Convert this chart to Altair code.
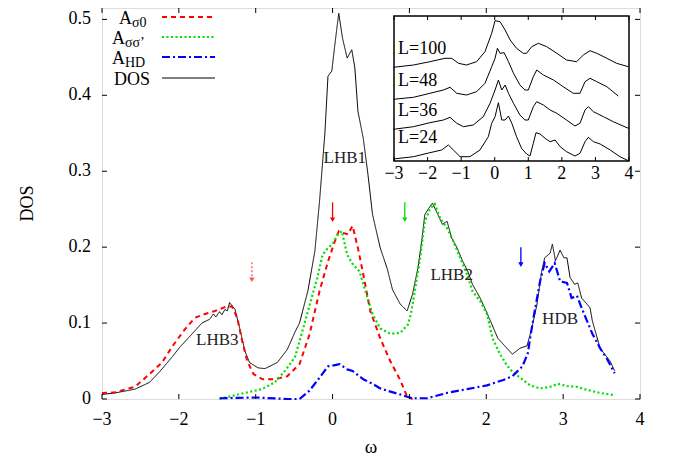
import altair as alt
import pandas as pd

# ---------------- main panel data ----------------
dos_x = [-3.0, -2.83, -2.57, -2.38, -2.25, -2.09, -1.99, -1.88, -1.79, -1.70, -1.60, -1.55, -1.52, -1.47,
         -1.44, -1.40, -1.37, -1.34, -1.27, -1.21, -1.14, -1.08, -0.97, -0.88, -0.72, -0.59, -0.49, -0.43,
         -0.32, -0.23, -0.17, -0.10, -0.06, -0.01, 0.03, 0.08, 0.13, 0.19, 0.25, 0.29, 0.33, 0.40, 0.46,
         0.52, 0.62, 0.71, 0.78, 0.88, 0.97, 1.04, 1.11, 1.16, 1.20, 1.27, 1.30, 1.37, 1.43, 1.49, 1.55,
         1.62, 1.69, 1.76, 1.82, 1.92, 1.98, 2.07, 2.15, 2.24, 2.34, 2.44, 2.53, 2.59, 2.66, 2.72, 2.76,
         2.83, 2.86, 2.90, 2.96, 3.01, 3.05, 3.09, 3.15, 3.19, 3.24, 3.31, 3.35, 3.38, 3.48, 3.54, 3.61, 3.67]
dos_y = [0.006, 0.008, 0.013, 0.022, 0.036, 0.055, 0.068, 0.080, 0.090, 0.100, 0.105, 0.112, 0.108, 0.115,
         0.111, 0.118, 0.116, 0.127, 0.118, 0.094, 0.063, 0.048, 0.041, 0.040, 0.048, 0.065, 0.088, 0.100,
         0.143, 0.195, 0.260, 0.350, 0.425, 0.432, 0.467, 0.508, 0.475, 0.449, 0.460, 0.436, 0.379, 0.343,
         0.296, 0.243, 0.199, 0.172, 0.144, 0.125, 0.116, 0.138, 0.172, 0.208, 0.243, 0.254, 0.258, 0.243,
         0.230, 0.234, 0.212, 0.199, 0.182, 0.168, 0.151, 0.133, 0.120, 0.099, 0.080, 0.070, 0.059, 0.067,
         0.070, 0.092, 0.125, 0.168, 0.186, 0.192, 0.204, 0.182, 0.196, 0.186, 0.186, 0.160, 0.151, 0.153,
         0.133, 0.125, 0.120, 0.103, 0.067, 0.059, 0.050, 0.037]

s0_x = [-3.0, -2.83, -2.57, -2.38, -2.22, -2.08, -1.92, -1.79, -1.66, -1.53, -1.40, -1.31, -1.24, -1.18,
        -1.11, -1.03, -0.91, -0.75, -0.59, -0.43, -0.30, -0.17, -0.06, 0.03, 0.08, 0.13, 0.20, 0.26, 0.33,
        0.40, 0.49, 0.62, 0.75, 0.88, 0.97, 1.04]
s0_y = [0.008, 0.009, 0.016, 0.033, 0.048, 0.070, 0.092, 0.107, 0.112, 0.116, 0.121, 0.122, 0.107, 0.078,
        0.050, 0.033, 0.026, 0.026, 0.030, 0.046, 0.085, 0.142, 0.181, 0.208, 0.221, 0.219, 0.217, 0.228,
        0.199, 0.164, 0.116, 0.080, 0.050, 0.025, 0.003, 0.0]

ss_x = [-1.47, -1.31, -1.14, -0.92, -0.75, -0.62, -0.49, -0.43, -0.32, -0.20, -0.13, -0.06, 0.0, 0.07, 0.12,
        0.19, 0.26, 0.35, 0.44, 0.52, 0.62, 0.75, 0.88, 0.98, 1.02, 1.07, 1.14, 1.20, 1.27, 1.33, 1.40, 1.49,
        1.57, 1.66, 1.75, 1.82, 1.92, 2.01, 2.08, 2.18, 2.27, 2.34, 2.44, 2.57, 2.70, 2.83, 2.93, 3.05, 3.18,
        3.31, 3.48, 3.67]
ss_y = [0.0, 0.004, 0.008, 0.013, 0.022, 0.037, 0.055, 0.076, 0.116, 0.159, 0.190, 0.199, 0.204, 0.217, 0.221,
        0.190, 0.178, 0.168, 0.138, 0.112, 0.093, 0.086, 0.087, 0.098, 0.112, 0.142, 0.186, 0.234, 0.251,
        0.257, 0.238, 0.225, 0.208, 0.186, 0.164, 0.142, 0.129, 0.112, 0.080, 0.059, 0.044, 0.036, 0.028,
        0.018, 0.014, 0.016, 0.020, 0.017, 0.016, 0.012, 0.008, 0.005]

hd_x = [-1.47, -1.0, -0.6, -0.43, -0.30, -0.17, -0.06, 0.0, 0.09, 0.19, 0.26, 0.40, 0.52, 0.62, 0.71, 0.88,
        0.97, 1.04, 1.23, 1.49, 1.75, 2.01, 2.22, 2.34, 2.47, 2.54, 2.57, 2.63, 2.70, 2.76, 2.82, 2.89, 2.96,
        3.05, 3.11, 3.18, 3.24, 3.31, 3.38, 3.48, 3.57, 3.67]
hd_y = [0.001, 0.002, 0.0, 0.0, 0.011, 0.028, 0.043, 0.044, 0.046, 0.039, 0.037, 0.026, 0.020, 0.014, 0.011,
        0.006, 0.003, 0.001, 0.001, 0.008, 0.013, 0.018, 0.025, 0.030, 0.043, 0.060, 0.080, 0.116, 0.155,
        0.179, 0.168, 0.179, 0.155, 0.153, 0.133, 0.136, 0.120, 0.103, 0.086, 0.067, 0.053, 0.034]

band_labels = ["LHB1", "LHB2", "LHB3", "HDB"]
band_x = [0.16, 1.55, -1.5, 2.96]
band_y = [0.318, 0.163, 0.078, 0.105]

arrow_x = [-1.05, 0.0, 0.94, 2.45]
arrow_y0 = [0.180, 0.259, 0.259, 0.200]
arrow_y1 = [0.157, 0.236, 0.236, 0.177]
arrow_c = ["#ff5050", "#ff0000", "#00dd00", "#0000ff"]
arrow_dash = [[2, 2], [1, 0], [1, 0], [1, 0]]

x_ticks = [-3, -2, -1, 0, 1, 2, 3, 4]
x_tick_labels = ["\u22123", "\u22122", "\u22121", "0", "1", "2", "3", "4"]
y_ticks = [0, 0.1, 0.2, 0.3, 0.4, 0.5]
y_tick_labels = ["0", "0.1", "0.2", "0.3", "0.4", "0.5"]
x_title = "\u03c9"
y_title = "DOS"

# ---------------- inset data ----------------
in_ticks = [-3, -2, -1, 0, 1, 2, 3, 4]
in_tick_labels = ["\u22123", "\u22122", "\u22121", "0", "1", "2", "3", "4"]

l24_x = [-3.02, -2.42, -1.93, -1.58, -1.38, -1.23, -1.03, -0.74, -0.44, -0.19, -0.09, 0.01, 0.11, 0.21, 0.31,
         0.41, 0.51, 0.65, 0.80, 0.95, 1.05, 1.15, 1.23, 1.35, 1.50, 1.65, 1.80, 1.95, 2.14, 2.39, 2.54, 2.69,
         2.79, 2.94, 3.14, 3.44, 3.73, 3.98]
l24_y = [2, 4.3, 8.3, 11, 16, 11, 4.3, 4.3, 11, 24.3, 37.7, 44.3, 58.3, 41, 41, 45, 37.7, 24.3, 12.7, 7, 5,
         17.7, 28.3, 27, 22.7, 19.3, 21, 14.3, 9.3, 5, 7.7, 19.3, 23.7, 19.3, 17, 11, 4.3, 0.3]

l36_x = [-3.02, -2.42, -1.93, -1.53, -1.33, -1.13, -0.93, -0.64, -0.34, -0.14, 0.01, 0.11, 0.21, 0.31, 0.41,
         0.56, 0.75, 0.90, 1.00, 1.15, 1.25, 1.45, 1.65, 1.85, 2.14, 2.39, 2.54, 2.69, 2.79, 2.94, 3.24, 3.53, 3.98]
l36_y = [31.7, 34.3, 38.3, 41, 43.7, 37.7, 34.3, 36, 44.3, 57.7, 71, 81, 71, 76, 67.7, 57.7, 46, 41, 41, 54.3,
         59.3, 56, 51, 47.7, 41, 35, 37.7, 51, 54.3, 49.3, 44.3, 39.3, 32.7]

l48_x = [-3.02, -2.42, -1.93, -1.53, -1.33, -1.13, -0.84, -0.54, -0.29, -0.09, 0.01, 0.08, 0.16, 0.28, 0.41,
         0.56, 0.75, 0.90, 1.00, 1.15, 1.25, 1.45, 1.75, 2.04, 2.34, 2.54, 2.69, 2.84, 3.04, 3.34, 3.68]
l48_y = [61.7, 63.7, 67.7, 71, 73.7, 67.7, 66, 69.3, 77.7, 94.3, 102.7, 112.7, 107.7, 108.3, 99.3, 87.7, 76, 71,
         71, 84.3, 91, 86, 81, 74.3, 67.7, 67.7, 79.3, 82.7, 79.3, 74.3, 65]

l100_x = [-3.02, -2.42, -1.93, -1.48, -1.28, -1.08, -0.84, -0.54, -0.29, -0.09, 0.01, 0.16, 0.31, 0.46, 0.65,
          0.85, 0.95, 1.10, 1.30, 1.55, 1.85, 2.14, 2.44, 2.64, 2.84, 3.04, 3.34, 3.63, 3.98]
l100_y = [93.7, 96, 99.3, 102.7, 102.7, 97.7, 96, 99.3, 109.3, 127.7, 140.3, 139.3, 131, 121, 112.7, 107.7, 107.7,
          114.3, 117.7, 114.3, 107.7, 101, 99.3, 106, 110.3, 107.7, 102.7, 97.7, 94.3]

in_labels = ["L=100", "L=48", "L=36", "L=24"]
in_label_y = [112, 80, 50, 23]

FONT = "Liberation Serif"
W, H = 538, 391
RED, GREEN, BLUE = "#ff0000", "#00dd00", "#0000ff"

xs = alt.Scale(domain=[-3, 4], nice=False, zero=False)
ys = alt.Scale(domain=[0, 0.515], nice=False)


def X(f):
    return alt.X(f, type="quantitative", scale=xs, axis=None)


def Y(f):
    return alt.Y(f, type="quantitative", scale=ys, axis=None)


def series(xv, yv, color, dash, width):
    df = pd.DataFrame({"x": xv, "y": yv})
    return alt.Chart(df).mark_line(color=color, strokeDash=dash, strokeWidth=width).encode(
        x=X("x"), y=Y("y"))


dos_line = series(dos_x, dos_y, "black", [1, 0], 1.0)
s0_line = series(s0_x, s0_y, RED, [5, 4], 2.0)
ss_line = series(ss_x, ss_y, GREEN, [2, 2.5], 2.2)
hd_line = series(hd_x, hd_y, BLUE, [8, 3, 2, 3], 2.2)

band_df = pd.DataFrame({"x": band_x, "y": band_y, "t": band_labels})
band_text = alt.Chart(band_df).mark_text(font=FONT, fontSize=17, color="#222222").encode(
    x=X("x"), y=Y("y"), text="t:N")

arrow_layers = []
for i in range(len(arrow_x)):
    adf = pd.DataFrame({"x": [arrow_x[i]], "y0": [arrow_y0[i]], "y1": [arrow_y1[i]]})
    arrow_layers.append(alt.Chart(adf).mark_rule(color=arrow_c[i], strokeWidth=1.3,
                                                  strokeDash=arrow_dash[i]).encode(
        x=X("x"), y=Y("y0"), y2="y1"))
    arrow_layers.append(alt.Chart(adf).mark_point(
        shape="triangle-down", filled=True, size=28, color=arrow_c[i], opacity=1,
        strokeWidth=0).encode(x=X("x"), y=Y("y1")))

# axes drawn by hand: inward ticks on all four sides, serif labels
xt_df = pd.DataFrame({"t": x_ticks, "lab": x_tick_labels})
yt_df = pd.DataFrame({"t": y_ticks, "lab": y_tick_labels})
ticks_bottom = alt.Chart(xt_df).mark_rule(color="black", strokeWidth=1).encode(
    x=X("t"), y=alt.value(H), y2=alt.value(H - 5))
ticks_top = alt.Chart(xt_df).mark_rule(color="black", strokeWidth=1).encode(
    x=X("t"), y=alt.value(0), y2=alt.value(5))
ticks_left = alt.Chart(yt_df).mark_rule(color="black", strokeWidth=1).encode(
    y=Y("t"), x=alt.value(0), x2=alt.value(5))
ticks_right = alt.Chart(yt_df).mark_rule(color="black", strokeWidth=1).encode(
    y=Y("t"), x=alt.value(W), x2=alt.value(W - 5))
x_lab = alt.Chart(xt_df).mark_text(font=FONT, fontSize=18, color="black", baseline="middle").encode(
    x=X("t"), y=alt.value(H + 21), text="lab:N")
y_lab = alt.Chart(yt_df).mark_text(font=FONT, fontSize=18, color="black", baseline="middle",
                                   align="right").encode(
    y=Y("t"), x=alt.value(-11), text="lab:N")
one = pd.DataFrame({"k": [0]})
x_tit = alt.Chart(one).mark_text(text=x_title, font=FONT, fontSize=19, color="black",
                                 baseline="middle").encode(x=alt.value(W / 2), y=alt.value(H + 48))
y_tit = alt.Chart(one).mark_text(text=y_title, font=FONT, fontSize=18, color="black",
                                 baseline="middle", angle=270).encode(x=alt.value(-74), y=alt.value(H / 2))

# ---------------- legend ----------------
leg = []
leg_rows = [("\u03c30", RED, [5, 4], 2.0, 9, 30), ("\u03c3\u03c3\u2019", GREEN, [2, 2.5], 2.2, 29, 23),
            ("HD", BLUE, [8, 3, 2, 3], 2.2, 49, 23)]
for sub, col, dash, sw, ly, ax in leg_rows:
    leg.append(alt.Chart(one).mark_rule(color=col, strokeDash=dash, strokeWidth=sw).encode(
        x=alt.value(60), x2=alt.value(113), y=alt.value(ly)))
    leg.append(alt.Chart(one).mark_text(text="A", font=FONT, fontSize=18, align="right",
                                        baseline="alphabetic", color="black").encode(
        x=alt.value(ax), y=alt.value(ly + 7)))
    leg.append(alt.Chart(one).mark_text(text=sub, font=FONT, fontSize=14, align="left",
                                        baseline="alphabetic", color="black").encode(
        x=alt.value(ax), y=alt.value(ly + 10)))
leg.append(alt.Chart(one).mark_rule(color="black", strokeWidth=1).encode(
    x=alt.value(60), x2=alt.value(113), y=alt.value(70)))
leg.append(alt.Chart(one).mark_text(text="DOS", font=FONT, fontSize=18, align="right",
                                    baseline="alphabetic", color="black").encode(
    x=alt.value(48), y=alt.value(77)))

main = alt.layer(dos_line, s0_line, ss_line, hd_line, band_text, *arrow_layers,
                 ticks_bottom, ticks_top, ticks_left, ticks_right, x_lab, y_lab, x_tit, y_tit, *leg)

# ---------------- inset ----------------
ixs = alt.Scale(domain=[-3, 4], range=[292, 527], nice=False, zero=False)
iys = alt.Scale(domain=[0, 145], range=[153, 8], nice=False)


def IX(f):
    return alt.X(f, type="quantitative", scale=ixs, axis=None)


def IY(f):
    return alt.Y(f, type="quantitative", scale=iys, axis=None)


frame_df = pd.DataFrame({"x0": [-3], "x1": [4], "y0": [0], "y1": [145]})
in_frame = alt.Chart(frame_df).mark_rect(fill="white", stroke="black", strokeWidth=1.5).encode(
    x=IX("x0"), x2="x1", y=IY("y0"), y2="y1")

in_lines = []
for xv, yv in [(l24_x, l24_y), (l36_x, l36_y), (l48_x, l48_y), (l100_x, l100_y)]:
    in_lines.append(alt.Chart(pd.DataFrame({"ix": xv, "iy": yv})).mark_line(
        color="black", strokeWidth=1).encode(x=IX("ix"), y=IY("iy")))

it_df = pd.DataFrame({"ix": in_ticks, "lab": in_tick_labels})
in_ticks_top = alt.Chart(it_df).mark_rule(color="black", strokeWidth=1).encode(
    x=IX("ix"), y=alt.value(8), y2=alt.value(12))
in_ticks_bot = alt.Chart(it_df).mark_rule(color="black", strokeWidth=1).encode(
    x=IX("ix"), y=alt.value(153), y2=alt.value(149))
in_tick_text = alt.Chart(it_df).mark_text(font=FONT, fontSize=18, color="black", baseline="middle").encode(
    x=IX("ix"), y=alt.value(166), text="lab:N")

il_df = pd.DataFrame({"ix": [-2.88] * 4, "iy": in_label_y, "t": in_labels})
in_label_text = alt.Chart(il_df).mark_text(font=FONT, fontSize=18, color="black", align="left",
                                           baseline="middle").encode(
    x=IX("ix"), y=IY("iy"), text="t:N")

inset = alt.layer(in_frame, *in_lines, in_ticks_top, in_ticks_bot, in_tick_text, in_label_text)

chart = alt.layer(main, inset).resolve_scale(x="independent", y="independent").properties(
    width=W, height=H,
    padding={"left": 94, "top": 0, "right": 30, "bottom": 60},
    autosize=alt.AutoSizeParams(type="none"),
).configure_view(stroke="black", strokeWidth=1.5).configure(background="white").configure_text(font=FONT)

chart.save("out.html", embed_options={"renderer": "svg", "actions": False})
